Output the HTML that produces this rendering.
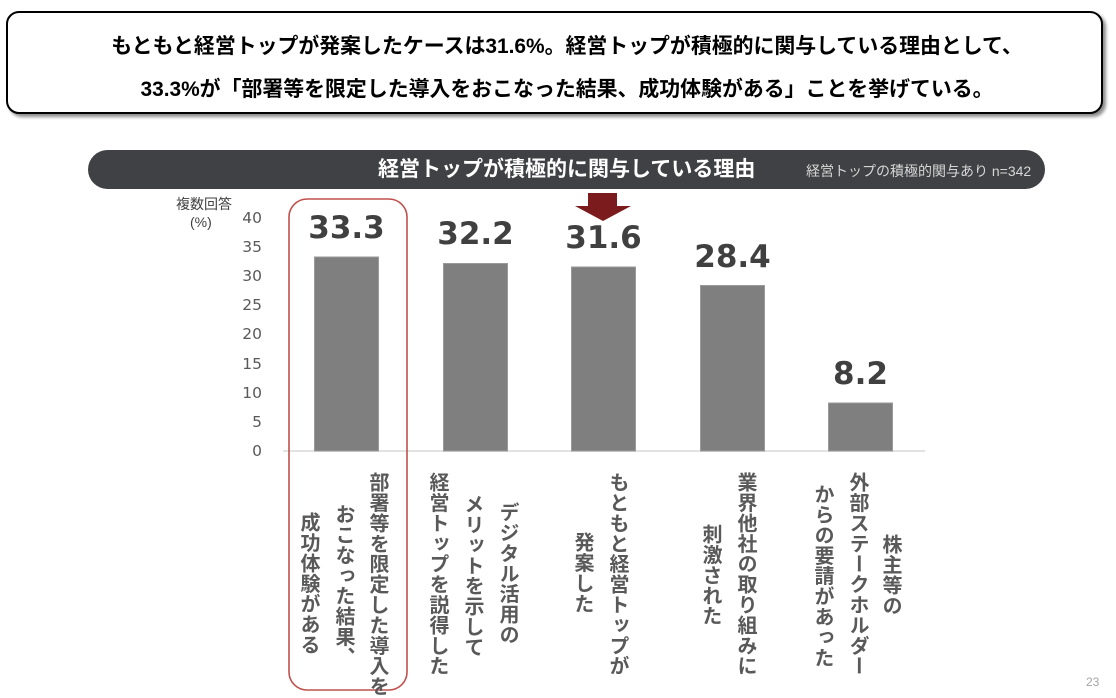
<!DOCTYPE html>
<html>
<head>
<meta charset="utf-8">
<style>
html,body{margin:0;padding:0;}
body{width:1116px;height:698px;background:#fff;position:relative;overflow:hidden;font-family:"Liberation Sans","Noto Sans CJK JP",sans-serif;}
.abs{position:absolute;white-space:nowrap;}
.box{position:absolute;left:6px;top:11px;width:1093px;height:99px;border:2.5px solid #000;border-radius:13px;box-shadow:3px 3px 3px rgba(0,0,0,0.45);background:#fff;}
.hl{font-weight:bold;font-size:20.9px;color:#000;left:17px;width:1100px;text-align:center;line-height:24px;}
.bar{position:absolute;left:88px;top:150px;width:957px;height:39px;border-radius:20px;background:#404144;}
.vt{position:absolute;writing-mode:vertical-rl;font-weight:bold;font-size:20px;letter-spacing:0.4px;line-height:20px;width:20px;color:#595959;white-space:nowrap;}
.tick{position:absolute;font-family:"DejaVu Sans",sans-serif;font-size:15.5px;color:#595959;text-align:right;width:40px;left:222px;line-height:18px;}
</style>
</head>
<body>
<div class="box"></div>
<div class="abs hl" style="top:35px;">もともと経営トップが発案したケースは31.6%。経営トップが積極的に関与している理由として、</div>
<div class="abs hl" style="top:78px;">33.3%が「部署等を限定した導入をおこなった結果、成功体験がある」ことを挙げている。</div>

<div class="bar"></div>
<div class="abs" style="left:378px;top:157px;font-size:21px;font-weight:bold;color:#fff;line-height:26px;">経営トップが積極的に関与している理由</div>
<div class="abs" style="left:806px;top:161px;font-size:14px;color:#d6d6d6;line-height:20px;">経営トップの積極的関与あり n=342</div>

<div class="abs" style="left:176px;top:195px;font-size:14px;color:#404040;line-height:18px;">複数回答</div>
<div class="abs" style="left:190px;top:213px;font-size:14px;color:#404040;line-height:18px;">(%)</div>

<div class="tick" style="top:209px;">40</div>
<div class="tick" style="top:238px;">35</div>
<div class="tick" style="top:267px;">30</div>
<div class="tick" style="top:296px;">25</div>
<div class="tick" style="top:325px;">20</div>
<div class="tick" style="top:355px;">15</div>
<div class="tick" style="top:384px;">10</div>
<div class="tick" style="top:413px;">5</div>
<div class="tick" style="top:442px;">0</div>

<svg class="abs" style="left:0;top:0;" width="1116" height="698" viewBox="0 0 1116 698">
  <line x1="283" y1="451" x2="925" y2="451" stroke="#d9d9d9" stroke-width="1.5"/>
  <g fill="#7f7f7f" stroke="#9a9a9a" stroke-width="1">
    <rect x="314.5" y="257" width="64" height="194"/>
    <rect x="443.5" y="263.5" width="64" height="187.5"/>
    <rect x="571.5" y="267" width="64" height="184"/>
    <rect x="700.5" y="285.5" width="64" height="165.5"/>
    <rect x="828.5" y="403" width="64" height="48"/>
  </g>
  <g font-family="DejaVu Sans, sans-serif" font-weight="bold" font-size="31" fill="#404040" text-anchor="middle">
    <text x="346.5" y="238">33.3</text>
    <text x="475.5" y="244">32.2</text>
    <text x="603.5" y="248">31.6</text>
    <text x="732.5" y="267">28.4</text>
    <text x="860.5" y="384">8.2</text>
  </g>
  <rect x="289" y="199" width="118" height="491" rx="18" ry="18" fill="none" stroke="#c0504d" stroke-width="1.6"/>
  <polygon points="588,193 617,193 617,206 631,206 603,221 575,206 588,206" fill="#7b1b1d"/>
</svg>

<!-- Category labels -->
<div class="vt" style="left:367px;top:472px;">部署等を限定した導入を</div>
<div class="vt" style="left:333px;top:504px;">おこなった結果、</div>
<div class="vt" style="left:298px;top:512px;">成功体験がある</div>

<div class="vt" style="left:497px;top:502px;">デジタル活用の</div>
<div class="vt" style="left:462px;top:494px;">メリットを示して</div>
<div class="vt" style="left:427px;top:472px;">経営トップを説得した</div>

<div class="vt" style="left:607px;top:472px;">もともと経営トップが</div>
<div class="vt" style="left:572px;top:532px;">発案した</div>

<div class="vt" style="left:735px;top:472px;">業界他社の取り組みに</div>
<div class="vt" style="left:700px;top:524px;">刺激された</div>

<div class="vt" style="left:880px;top:534px;">株主等の</div>
<div class="vt" style="left:847px;top:472px;">外部ステークホルダー</div>
<div class="vt" style="left:812px;top:484px;">からの要請があった</div>

<div class="abs" style="left:1086px;top:675px;font-size:12px;color:#a6a6a6;line-height:14px;">23</div>
</body>
</html>
